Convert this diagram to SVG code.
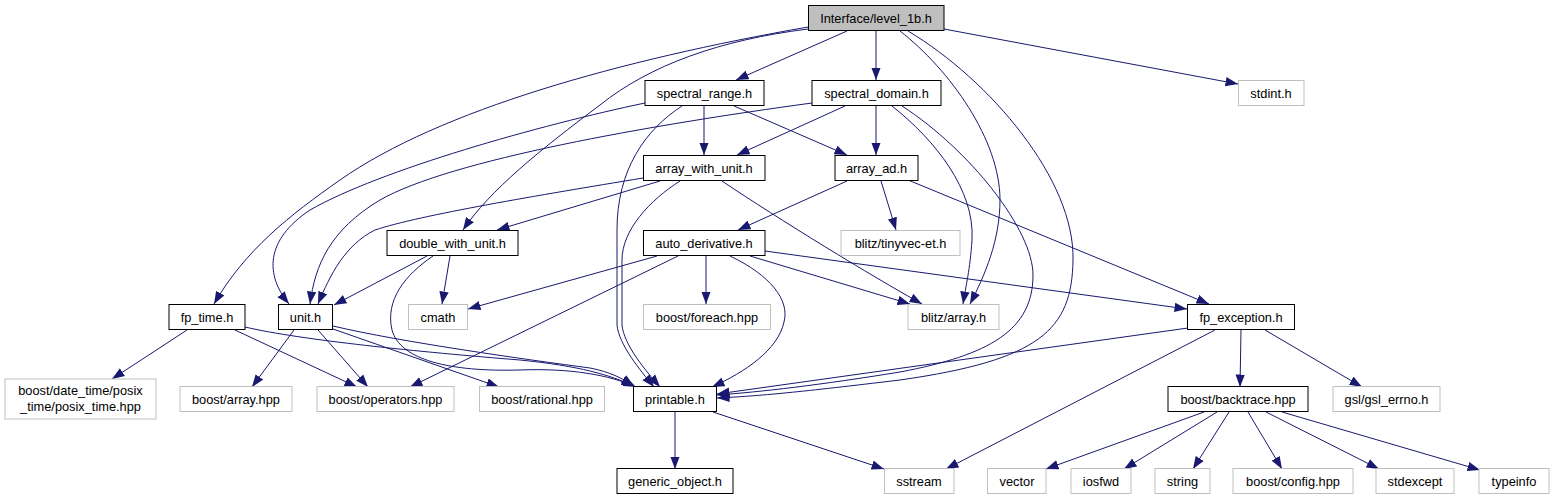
<svg xmlns="http://www.w3.org/2000/svg" width="1552" height="500" viewBox="0 0 1552 500">
<style>
.n rect{fill:#fff;stroke:#000;stroke-width:1}
.s rect{fill:#fff;stroke:#bfbfbf;stroke-width:1}
.r rect{fill:#bfbfbf;stroke:#000;stroke-width:1}
text{font-family:"Liberation Sans",Arial,sans-serif;font-size:12.8px;fill:#000;text-anchor:middle}
#edges path{fill:none;stroke:#191970;stroke-width:1;marker-end:url(#ah)}
</style>
<defs>
<marker id="ah" markerUnits="userSpaceOnUse" markerWidth="13" markerHeight="10" refX="12.5" refY="5" orient="auto">
<path d="M0,0.3 L12.5,5 L0,9.7 z" fill="#191970"/>
</marker>
</defs>
<rect width="1552" height="500" fill="#fff"/>
<g id="edges">
<path d="M808,27 C620,60 440,110 340,180 C290,215 245,250 214,304"/>
<path d="M808,29 C720,40 650,65 600,105 C540,150 490,190 463,230"/>
<path d="M847,31 L736,80"/>
<path d="M876,31 L876,80"/>
<path d="M944,29 L1238,84"/>
<path d="M900,31 C950,70 1000,140 1000,200 C1000,240 985,275 970,304"/>
<path d="M908,31 C990,80 1075,180 1073,260 C1072,330 1040,360 900,380 C800,392 760,396 717,398"/>
<path d="M645,103 C540,125 380,170 310,210 C265,240 265,275 289,304"/>
<path d="M704,106 L704,155"/>
<path d="M734,106 L847,155"/>
<path d="M682,106 C645,130 617,170 617,230 L617,325 C619,345 640,370 654,387"/>
<path d="M812,103 C650,125 450,160 380,200 C330,230 315,265 310,304"/>
<path d="M845,106 L737,155"/>
<path d="M876,106 L876,155"/>
<path d="M892,106 C935,140 975,190 972,240 C970,270 966,285 963,304"/>
<path d="M902,106 C970,150 1033,230 1033,275 C1033,330 990,355 900,372 C820,385 760,392 717,395"/>
<path d="M643,178 C540,195 420,215 375,230 C345,245 330,275 318,304"/>
<path d="M660,181 L497,230"/>
<path d="M680,181 C650,200 622,230 622,260 L622,325 C624,345 645,370 660,387"/>
<path d="M722,181 C780,220 870,275 922,304"/>
<path d="M847,181 L738,230"/>
<path d="M881,181 L896,230"/>
<path d="M908,180 L1209,304"/>
<path d="M427,256 L334,305"/>
<path d="M450,256 L442,304"/>
<path d="M433,256 C405,275 385,300 392,330 C400,360 450,372 520,370 C570,368 610,375 636,387"/>
<path d="M657,256 L468,309"/>
<path d="M678,256 L410,387"/>
<path d="M706,256 L706,304"/>
<path d="M730,256 C770,275 790,300 784,322 C778,350 745,372 712,387"/>
<path d="M750,256 L910,304"/>
<path d="M765,251 L1187,309"/>
<path d="M187,330 L112,379"/>
<path d="M235,330 L357,387"/>
<path d="M245,327 C300,340 420,352 520,360 C580,366 610,375 634,386"/>
<path d="M294,330 L252,387"/>
<path d="M318,330 L368,387"/>
<path d="M333,329 L499,387"/>
<path d="M333,326 C400,342 530,360 590,368 C610,372 622,378 634,386"/>
<path d="M1215,330 L946,469"/>
<path d="M1241,330 L1240,387"/>
<path d="M1265,330 L1362,387"/>
<path d="M1188,328 L717,394"/>
<path d="M675,412 L675,469"/>
<path d="M713,412 L884,469"/>
<path d="M1204,412 L1046,469"/>
<path d="M1217,412 L1124,469"/>
<path d="M1229,412 L1193,469"/>
<path d="M1248,412 L1282,469"/>
<path d="M1266,412 L1379,469"/>
<path d="M1282,412 L1480,470"/>
</g>
<g id="root" class="r"><rect x="808.5" y="5.5" width="135.5" height="25"/><text x="876" y="22.5">Interface/level_1b.h</text></g>
<g id="spectral_range" class="n"><rect x="645" y="80.5" width="119" height="25"/><text x="704.5" y="97.5">spectral_range.h</text></g>
<g id="spectral_domain" class="n"><rect x="812" y="80.5" width="129" height="25"/><text x="876.5" y="97.5">spectral_domain.h</text></g>
<g id="stdint" class="s"><rect x="1238.5" y="80.5" width="65.5" height="25"/><text x="1271" y="97.5">stdint.h</text></g>
<g id="array_with_unit" class="n"><rect x="643.5" y="155.5" width="121.5" height="25"/><text x="704" y="172.5">array_with_unit.h</text></g>
<g id="array_ad" class="n"><rect x="835" y="155.5" width="83" height="25"/><text x="876.5" y="172.5">array_ad.h</text></g>
<g id="double_with_unit" class="n"><rect x="387" y="230.5" width="131" height="25"/><text x="452.5" y="247.5">double_with_unit.h</text></g>
<g id="auto_derivative" class="n"><rect x="643.5" y="230.5" width="121.5" height="25"/><text x="704" y="247.5">auto_derivative.h</text></g>
<g id="tinyvec" class="s"><rect x="841" y="230.5" width="119" height="25"/><text x="900.5" y="247.5">blitz/tinyvec-et.h</text></g>
<g id="fp_time" class="n"><rect x="169" y="304.5" width="76" height="25"/><text x="207" y="321.5">fp_time.h</text></g>
<g id="unit" class="n"><rect x="278.5" y="304.5" width="54" height="25"/><text x="305.5" y="321.5">unit.h</text></g>
<g id="cmath" class="s"><rect x="408.5" y="304.5" width="59" height="25"/><text x="438" y="321.5">cmath</text></g>
<g id="foreach" class="s"><rect x="643.5" y="304.5" width="127" height="25"/><text x="707" y="321.5">boost/foreach.hpp</text></g>
<g id="blitz_array" class="s"><rect x="908" y="304.5" width="91" height="25"/><text x="953.5" y="321.5">blitz/array.h</text></g>
<g id="fp_exception" class="n"><rect x="1187.5" y="304.5" width="107" height="25"/><text x="1241" y="321.5">fp_exception.h</text></g>
<g id="date_time" class="s"><rect x="5" y="379" width="151" height="40"/><text x="80.5" y="395">boost/date_time/posix</text><text x="80.5" y="410.5">_time/posix_time.hpp</text></g>
<g id="boost_array" class="s"><rect x="180" y="386.5" width="112" height="25"/><text x="236" y="403.5">boost/array.hpp</text></g>
<g id="operators" class="s"><rect x="317" y="386.5" width="137" height="25"/><text x="385.5" y="403.5">boost/operators.hpp</text></g>
<g id="rational" class="s"><rect x="479.5" y="386.5" width="125" height="25"/><text x="542" y="403.5">boost/rational.hpp</text></g>
<g id="printable" class="n"><rect x="633.5" y="386.5" width="83" height="25"/><text x="675" y="403.5">printable.h</text></g>
<g id="backtrace" class="n"><rect x="1168" y="386.5" width="140" height="25"/><text x="1238" y="403.5">boost/backtrace.hpp</text></g>
<g id="gsl_errno" class="s"><rect x="1333" y="386.5" width="107" height="25"/><text x="1386.5" y="403.5">gsl/gsl_errno.h</text></g>
<g id="generic_object" class="n"><rect x="617" y="468.5" width="116" height="25"/><text x="675" y="485.5">generic_object.h</text></g>
<g id="sstream" class="s"><rect x="884.5" y="468.5" width="69.5" height="25"/><text x="919" y="485.5">sstream</text></g>
<g id="vector" class="s"><rect x="987.5" y="468.5" width="58.5" height="25"/><text x="1017" y="485.5">vector</text></g>
<g id="iosfwd" class="s"><rect x="1071" y="468.5" width="60" height="25"/><text x="1101" y="485.5">iosfwd</text></g>
<g id="string" class="s"><rect x="1155" y="468.5" width="55" height="25"/><text x="1182.5" y="485.5">string</text></g>
<g id="config" class="s"><rect x="1233" y="468.5" width="120" height="25"/><text x="1293" y="485.5">boost/config.hpp</text></g>
<g id="stdexcept" class="s"><rect x="1376" y="468.5" width="78" height="25"/><text x="1415" y="485.5">stdexcept</text></g>
<g id="typeinfo" class="s"><rect x="1479" y="468.5" width="70" height="25"/><text x="1514" y="485.5">typeinfo</text></g>
</svg>
